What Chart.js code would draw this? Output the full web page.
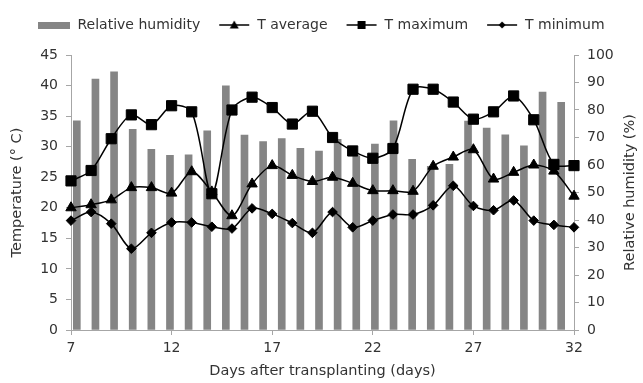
<!DOCTYPE html>
<html>
<head>
<meta charset="utf-8">
<script src="https://cdn.jsdelivr.net/npm/chart.js@4.4.1/dist/chart.umd.min.js"></script>
<style>
  html, body { margin: 0; padding: 0; background: #fff; }
</style>
</head>
<body>
<canvas id="chart" width="643" height="383"></canvas>
<script>
// temperature series, one point per day
const days = [7, 8, 9, 10, 11, 12, 13, 14, 15, 16, 17, 18, 19, 20, 21, 22, 23, 24, 25, 26, 27, 28, 29, 30, 31, 32];
const tAverage = [20.0, 20.5, 21.3, 23.3, 23.3, 22.4, 25.9, 22.6, 18.7, 23.9, 26.9, 25.3, 24.3, 25.0, 24.0, 22.8, 22.8, 22.7, 26.8, 28.3, 29.5, 24.7, 25.8, 27.0, 26.0, 21.9];
const tMaximum = [24.4, 26.1, 31.3, 35.2, 33.6, 36.7, 35.7, 22.3, 36.0, 38.1, 36.4, 33.7, 35.8, 31.5, 29.3, 28.1, 29.7, 39.4, 39.4, 37.3, 34.5, 35.7, 38.3, 34.4, 27.1, 26.9];
const tMinimum = [17.9, 19.3, 17.4, 13.3, 15.9, 17.6, 17.6, 16.9, 16.6, 19.9, 19.0, 17.5, 15.9, 19.3, 16.8, 17.9, 18.9, 18.9, 20.4, 23.6, 20.3, 19.6, 21.2, 17.9, 17.2, 16.8];

// humidity bars sit on their own category axis (27 slots)
const rhDays = [6, 7, 8, 9, 10, 11, 12, 13, 14, 15, 16, 17, 18, 19, 20, 21, 22, 23, 24, 25, 26, 27, 28, 29, 30, 31, 32];
const humidity = [76.1, 91.2, 93.9, 73.0, 65.7, 63.5, 63.7, 72.4, 88.8, 70.9, 68.5, 69.6, 66.1, 65.1, 69.3, 63.3, 67.6, 76.1, 62.1, 59.5, 60.2, 76.0, 73.4, 71.0, 67.0, 86.5, 82.8];

const dayTicks = [7, 12, 17, 22, 27, 32];

const FONT = "'DejaVu Sans', sans-serif";
const TEXT = '#333';
const AXIS = '#a6a6a6';
Chart.defaults.font.family = FONT;
Chart.defaults.color = TEXT;

const pts = vals => days.map((d, i) => ({ x: d, y: vals[i] }));

// little line+marker samples for the legend
function legendIcon(kind) {
  const c = document.createElement('canvas');
  c.width = 32; c.height = 12;
  const ctx = c.getContext('2d');
  if (kind === 'bar') {
    ctx.fillStyle = '#858585';
    ctx.fillRect(0, 3, 32, 7);
    return c;
  }
  ctx.strokeStyle = '#000';
  ctx.lineWidth = 1.5;
  ctx.beginPath(); ctx.moveTo(1, 6); ctx.lineTo(31, 6); ctx.stroke();
  ctx.fillStyle = '#000';
  ctx.beginPath();
  if (kind === 'triangle') {
    ctx.moveTo(16, 1.5); ctx.lineTo(20.5, 9.5); ctx.lineTo(11.5, 9.5);
  } else if (kind === 'rect') {
    ctx.rect(12, 2, 8, 8);
  } else {
    ctx.moveTo(16, 2.5); ctx.lineTo(19.5, 6); ctx.lineTo(16, 9.5); ctx.lineTo(12.5, 6);
  }
  ctx.closePath(); ctx.fill();
  return c;
}
const icons = [legendIcon('bar'), legendIcon('triangle'), legendIcon('rect'), legendIcon('diamond')];

const lineStyle = {
  type: 'line', xAxisID: 'x', yAxisID: 'y', order: 0,
  borderColor: '#000', borderWidth: 1.5,
  pointBackgroundColor: '#000', pointBorderColor: '#000', pointBorderWidth: 1,
  tension: 0.3, clip: false
};

const rightTitle = {
  id: 'rightTitle',
  beforeInit(chart) {
    const lg = chart.legend;
    const fit = lg.fit.bind(lg);
    lg.fit = function () { fit(); this.height = 55; };
  },
  afterDraw(chart) {
    const { ctx, chartArea } = chart;
    ctx.save();
    ctx.translate(630, (chartArea.top + chartArea.bottom) / 2);
    ctx.rotate(-Math.PI / 2);
    ctx.font = '14.5px ' + FONT;
    ctx.fillStyle = TEXT;
    ctx.textAlign = 'center';
    ctx.textBaseline = 'middle';
    ctx.fillText('Relative humidity (%)', 0, 0);
    ctx.restore();
  }
};

new Chart(document.getElementById('chart'), {
  data: {
    labels: rhDays,
    datasets: [
      {
        type: 'bar', label: 'Relative humidity', data: humidity,
        xAxisID: 'xb', yAxisID: 'yR', order: 1,
        backgroundColor: '#858585', barThickness: 7
      },
      Object.assign({}, lineStyle, { label: 'T average', data: pts(tAverage), pointStyle: 'triangle', pointRadius: 6 }),
      Object.assign({}, lineStyle, { label: 'T maximum', data: pts(tMaximum), pointStyle: 'rect', pointRadius: 7.2 }),
      Object.assign({}, lineStyle, { label: 'T minimum', data: pts(tMinimum), pointStyle: 'rectRot', pointRadius: 4.8 })
    ]
  },
  options: {
    responsive: false,
    animation: false,
    devicePixelRatio: 1,
    layout: { padding: 0 },
    plugins: {
      tooltip: { enabled: false },
      legend: {
        position: 'top',
        labels: {
          usePointStyle: true,
          pointStyleWidth: 32,
          boxHeight: 12,
          padding: 18,
          color: TEXT,
          font: { size: 14 },
          generateLabels(chart) {
            return chart.data.datasets.map((ds, i) => ({
              text: ds.label, pointStyle: icons[i], datasetIndex: i,
              hidden: false, fontColor: TEXT, lineWidth: 0,
              strokeStyle: 'transparent', fillStyle: 'transparent'
            }));
          }
        }
      }
    },
    scales: {
      xb: {
        type: 'category', display: false, offset: true,
        grid: { display: false }
      },
      x: {
        type: 'linear', position: 'bottom', min: 7, max: 32,
        afterBuildTicks: s => { s.ticks = dayTicks.map(v => ({ value: v })); },
        afterFit: s => { s.height = 53; },
        grid: { drawOnChartArea: false, tickLength: 5, color: AXIS },
        border: { color: AXIS },
        ticks: { padding: 5, font: { size: 14 }, color: TEXT },
        title: { display: true, text: 'Days after transplanting (days)', font: { size: 14.5 }, padding: { top: 0, bottom: 3 }, color: TEXT }
      },
      y: {
        position: 'left', min: 0, max: 45,
        afterFit: s => { s.width = 71; },
        grid: { drawOnChartArea: false, tickLength: 5, color: AXIS },
        border: { color: AXIS },
        ticks: { stepSize: 5, padding: 8, font: { size: 14 }, color: TEXT },
        title: { display: true, text: 'Temperature (° C)', font: { size: 14.5 }, padding: { top: 9, bottom: 0 }, color: TEXT }
      },
      yR: {
        position: 'right', min: 0, max: 100,
        afterFit: s => { s.width = 69; },
        grid: { drawOnChartArea: false, tickLength: 5, color: AXIS },
        border: { color: AXIS },
        ticks: { stepSize: 10, padding: 8, font: { size: 14 }, color: TEXT }
      }
    }
  },
  plugins: [rightTitle]
});
</script>
</body>
</html>
